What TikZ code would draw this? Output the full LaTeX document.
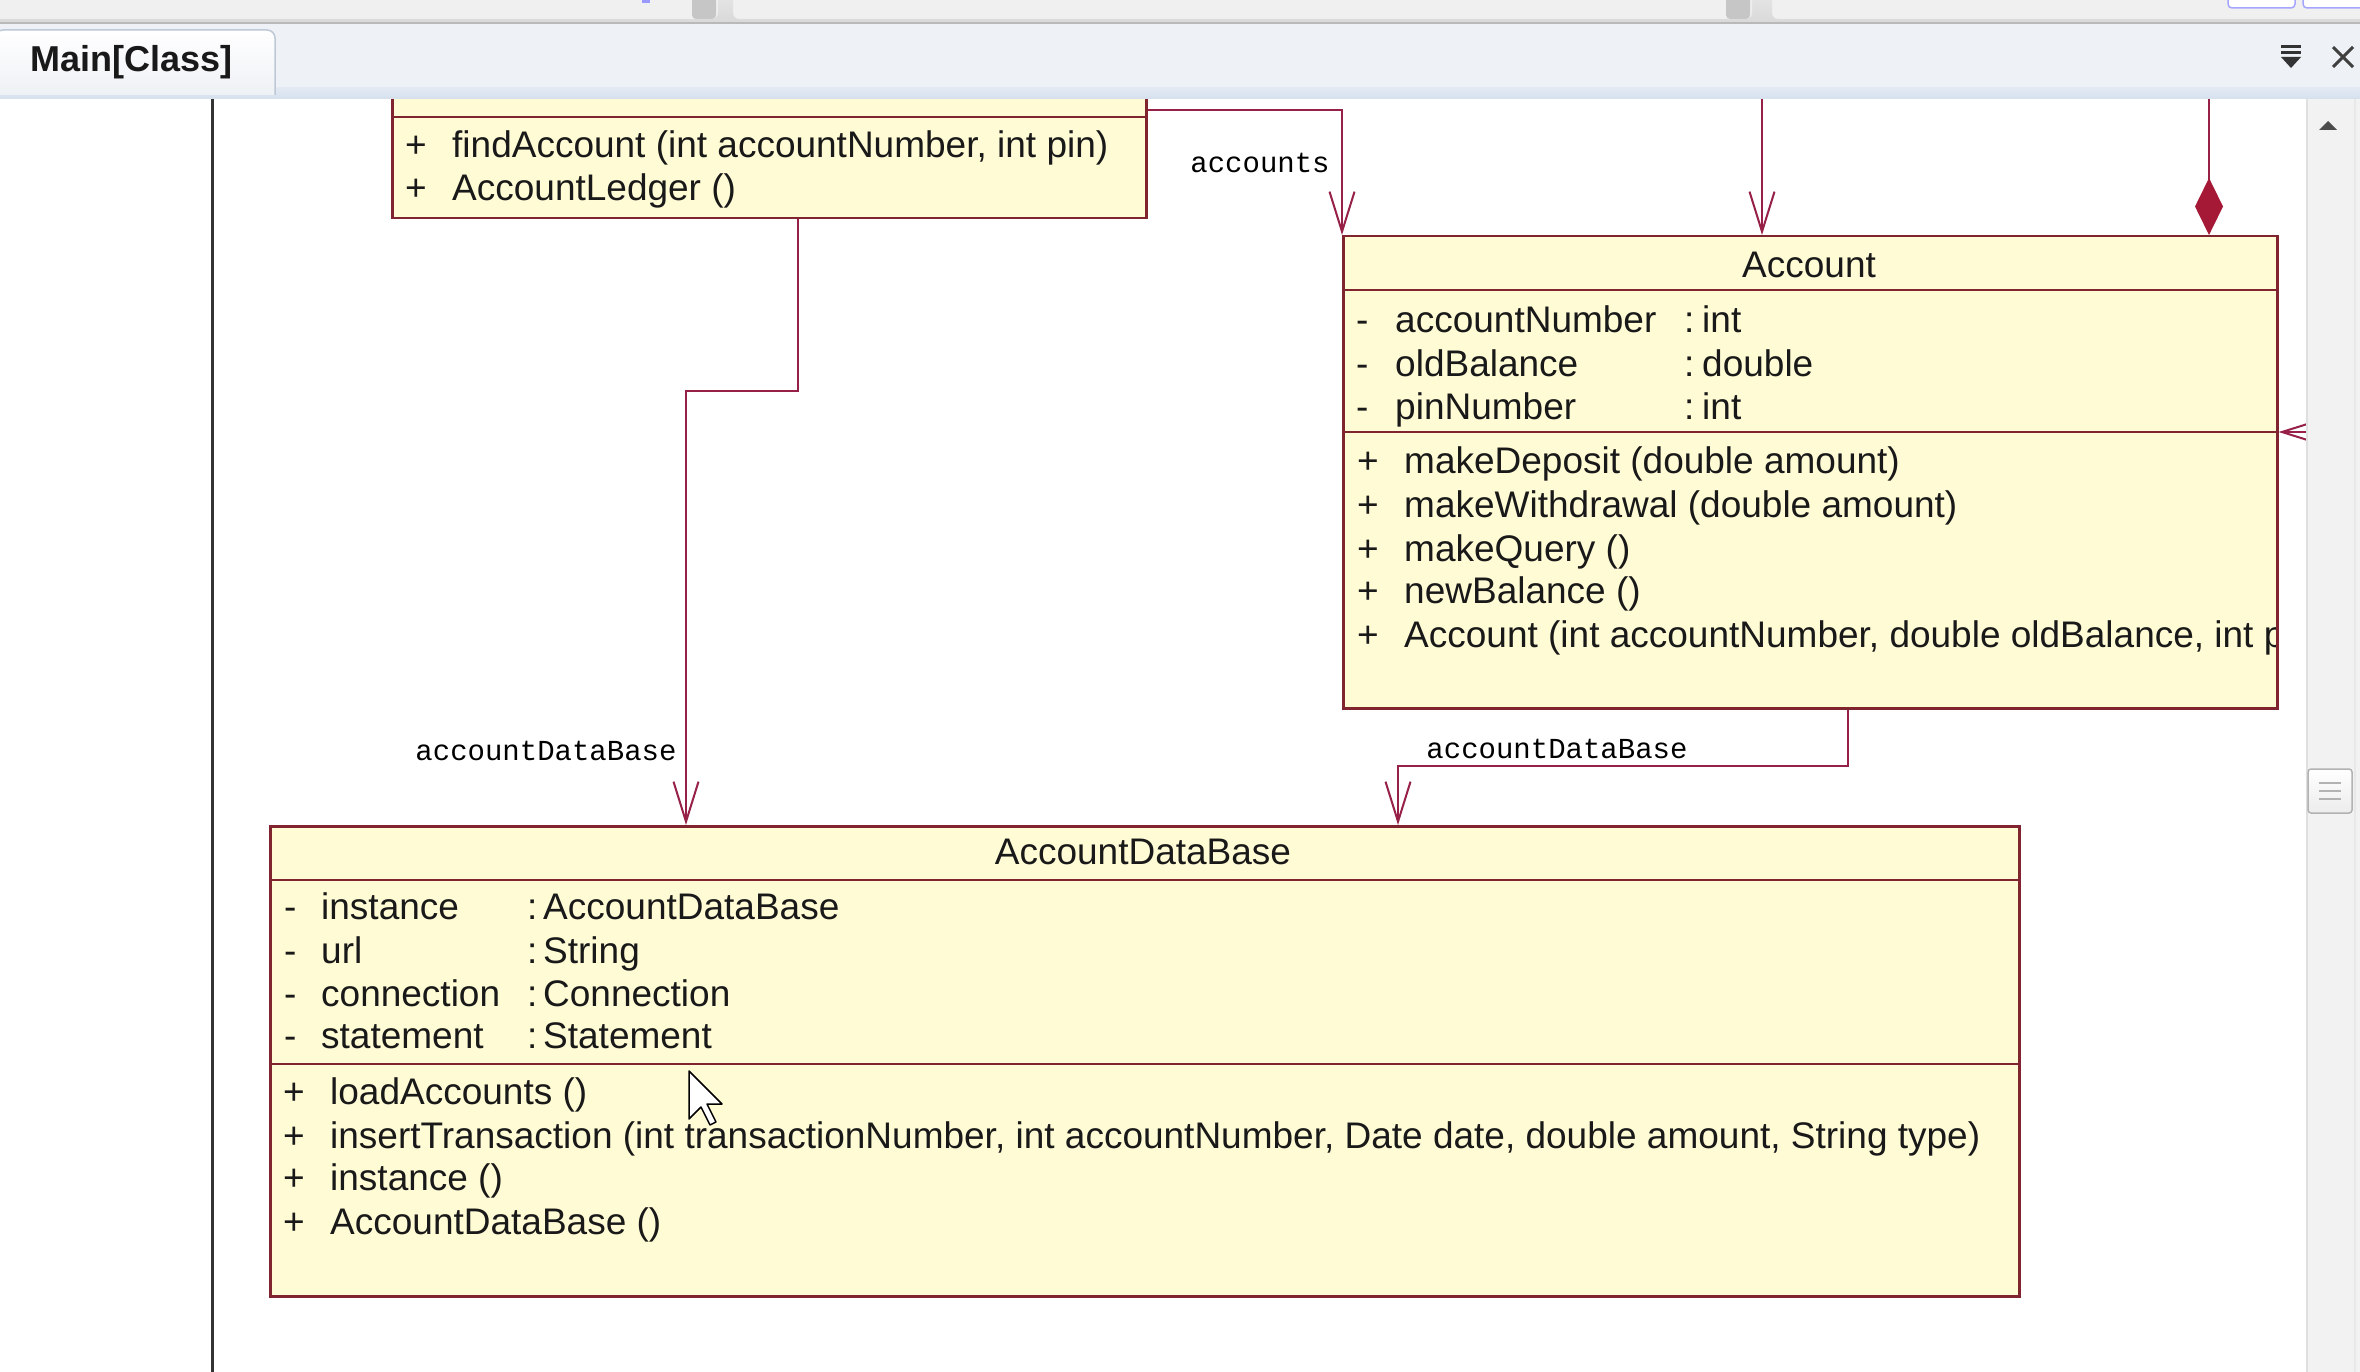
\documentclass[tikz,border=0pt]{standalone}
\usepackage{fontspec}
\setmainfont{Liberation Sans}
\newfontfamily\lblfont{Liberation Mono}
\usetikzlibrary{arrows.meta}
\definecolor{boxfill}{RGB}{255,251,213}
\definecolor{boxline}{RGB}{128,36,48}
\definecolor{connline}{RGB}{150,32,70}
\definecolor{diamondfill}{RGB}{165,25,55}
\definecolor{tabbg}{RGB}{238,241,245}
\definecolor{tabband}{RGB}{214,224,238}
\definecolor{tabedge}{RGB}{190,200,214}
\definecolor{txt}{RGB}{25,25,25}
\begin{document}
\begin{tikzpicture}[x=1pt,y=-1pt,
  classbox/.style={draw=boxline, fill=boxfill, line width=2.5pt, rectangle, inner sep=0pt, anchor=north west},
  sepline/.style={draw=boxline, line width=2.5pt},
  conn/.style={draw=connline, line width=2pt, -{Straight Barb[length=40pt,width=25pt]}},
  comp/.style={draw=connline, line width=2pt, -{Diamond[length=57pt,width=28pt,color=diamondfill]}},
  mem/.style={anchor=base west, inner sep=0pt, text=txt, font=\fontsize{37}{44}\selectfont},
  head/.style={anchor=base, inner sep=0pt, text=txt, font=\fontsize{37}{44}\selectfont},
  lbl/.style={inner sep=0pt, text=black, font=\lblfont\fontsize{29}{34}\selectfont}]
\useasboundingbox (0,0) rectangle (2360,1372);
% canvas
\fill[white] (0,0) rectangle (2360,1372);
\draw[black!80, line width=3pt] (212,99) -- (212,1372);

% class boxes
\node[classbox, minimum width=754pt, minimum height=177pt] (ledger) at (391,40) {};
\draw[sepline] ([yshift=-77pt]ledger.north west) -- ([yshift=-77pt]ledger.north east);
\node[classbox, minimum width=934pt, minimum height=472pt] (account) at (1342,235) {};
\draw[sepline] ([yshift=-55pt]account.north west) -- ([yshift=-55pt]account.north east);
\draw[sepline] ([yshift=-197pt]account.north west) -- ([yshift=-197pt]account.north east);
\node[classbox, minimum width=1749pt, minimum height=470pt] (adb) at (269,825) {};
\draw[sepline] ([yshift=-55pt]adb.north west) -- ([yshift=-55pt]adb.north east);
\draw[sepline] ([yshift=-239pt]adb.north west) -- ([yshift=-239pt]adb.north east);

% connectors
\draw[conn] ([yshift=-70pt]ledger.north east) -| (account.north west);
\coordinate (topa) at (1762,60);
\draw[conn] (topa) -- (topa |- account.north);
\coordinate (topb) at (2209,60);
\draw[comp] (topb) -- (topb |- account.north);
\coordinate (rightc) at (2318,432);
\draw[conn] (rightc) -- (rightc -| account.east);
\coordinate (b1) at (798,391);
\coordinate (b2) at (686,391);
\draw[conn] (ledger.south -| b1) -- (b1) -- (b2) -- (b2 |- adb.north);
\coordinate (c1) at (1848,766);
\coordinate (c2) at (1398,766);
\draw[conn] (account.south -| c1) -- (c1) -- (c2) -- (c2 |- adb.north);

% connector labels
\node[lbl] (lacc) at (1260,163) {accounts};
\node[lbl] (ldb1) at (546,751) {accountDataBase};
\node[lbl] (ldb2) at (1557,749) {accountDataBase};

% AccountLedger members
\node[mem] (lp1) at (405,158) {+};
\node[mem] (lm1) at (452,158) {findAccount (int accountNumber, int pin)};
\node[mem] (lp2) at (405,201) {+};
\node[mem] (lm2) at (452,201) {AccountLedger ()};

% Account
\node[head] (ahead) at (1809,277) {Account};
\node[mem] (ad1) at (1356,332) {-};
\node[mem] (an1) at (1395,332) {accountNumber};
\node[mem] (ac1) at (1684,332) {:};
\node[mem] (at1) at (1702,332) {int};
\node[mem] (ad2) at (1356,376) {-};
\node[mem] (an2) at (1395,376) {oldBalance};
\node[mem] (ac2) at (1684,376) {:};
\node[mem] (at2) at (1702,376) {double};
\node[mem] (ad3) at (1356,419) {-};
\node[mem] (an3) at (1395,419) {pinNumber};
\node[mem] (ac3) at (1684,419) {:};
\node[mem] (at3) at (1702,419) {int};
\node[mem] (ap1) at (1357,473) {+};
\node[mem] (am1) at (1404,473) {makeDeposit (double amount)};
\node[mem] (ap2) at (1357,517) {+};
\node[mem] (am2) at (1404,517) {makeWithdrawal (double amount)};
\node[mem] (ap3) at (1357,561) {+};
\node[mem] (am3) at (1404,561) {makeQuery ()};
\node[mem] (ap4) at (1357,603) {+};
\node[mem] (am4) at (1404,603) {newBalance ()};
\node[mem] (ap5) at (1357,647) {+};
\begin{scope}
\clip (1342,600) rectangle (2275,700);
\node[mem] (am5) at (1404,647) {Account (int accountNumber, double oldBalance, int pinNumber)};
\end{scope}

% AccountDataBase
\node[head] (dhead) at (1143,864) {AccountDataBase};
\node[mem] (dd1) at (284,919) {-};
\node[mem] (dn1) at (321,919) {instance};
\node[mem] (dc1) at (527,919) {:};
\node[mem] (dt1) at (543,919) {AccountDataBase};
\node[mem] (dd2) at (284,963) {-};
\node[mem] (dn2) at (321,963) {url};
\node[mem] (dc2) at (527,963) {:};
\node[mem] (dt2) at (543,963) {String};
\node[mem] (dd3) at (284,1006) {-};
\node[mem] (dn3) at (321,1006) {connection};
\node[mem] (dc3) at (527,1006) {:};
\node[mem] (dt3) at (543,1006) {Connection};
\node[mem] (dd4) at (284,1048) {-};
\node[mem] (dn4) at (321,1048) {statement};
\node[mem] (dc4) at (527,1048) {:};
\node[mem] (dt4) at (543,1048) {Statement};
\node[mem] (dp1) at (283,1104) {+};
\node[mem] (dm1) at (330,1104) {loadAccounts ()};
\node[mem] (dp2) at (283,1148) {+};
\node[mem] (dm2) at (330,1148) {insertTransaction (int transactionNumber, int accountNumber, Date date, double amount, String type)};
\node[mem] (dp3) at (283,1190) {+};
\node[mem] (dm3) at (330,1190) {instance ()};
\node[mem] (dp4) at (283,1234) {+};
\node[mem] (dm4) at (330,1234) {AccountDataBase ()};

% mouse cursor
\draw[black, fill=white, line width=1.5pt, line join=round] (689,1071) -- ++(0,48) -- ++(12,-12) -- ++(9,18) -- ++(6,-3) -- ++(-9,-18) -- ++(15,0) -- cycle;

% ---- window chrome ----
% toolbar
\fill[top color=gray!22, bottom color=gray!30] (0,0) rectangle (2360,23);
\draw[gray!20, fill=gray!12, rounded corners=6pt] (-10,-10) rectangle (718,19);
\fill[gray!45, rounded corners=4pt] (692,-5) rectangle (716,19);
\fill[blue!40] (642,0) rectangle (650,3);
\draw[gray!20, fill=gray!12, rounded corners=6pt] (733,-10) rectangle (1752,19);
\fill[gray!45, rounded corners=4pt] (1726,-5) rectangle (1750,19);
\draw[gray!20, fill=gray!12, rounded corners=6pt] (1772,-10) rectangle (2370,19);
\draw[blue!35, fill=white, rounded corners=4pt, line width=1.5pt] (2228,-10) rectangle (2295,8);
\draw[blue!35, fill=white, rounded corners=4pt, line width=1.5pt] (2303,-10) rectangle (2370,8);
\draw[gray!55, line width=2pt] (0,23) -- (2360,23);
% tab bar
\fill[tabbg] (0,24) rectangle (2360,88);
\fill[top color=tabband!70, bottom color=tabband] (0,88) rectangle (2360,99);
\draw[tabedge, top color=white, bottom color=tabbg, rounded corners=8pt, line width=1.5pt] (-5,95) -- (-5,30) -- (275,30) -- (275,95);
\node[anchor=base west, inner sep=0pt, font=\bfseries\fontsize{36}{42}\selectfont, text=black!90] (tab) at (30,72) {Main[Class]};
% right-hand icons
\fill[black!80] (2281,45) rectangle (2301,48);
\fill[black!80] (2281,51) rectangle (2301,54);
\fill[black!80] (2281,57) -- (2301,57) -- (2291,68) -- cycle;
\draw[black!75, line width=3pt] (2333,47) -- (2353,67) (2333,67) -- (2353,47);
% scrollbar
\fill[gray!10] (2306,99) rectangle (2360,1372);
\draw[gray!25, line width=2pt] (2307,99) -- (2307,1372);
\draw[gray!18, line width=1.5pt] (2355,99) -- (2355,1372);
\fill[black!70] (2319,130) -- (2337,130) -- (2328,121) -- cycle;
\draw[gray!60, top color=white, bottom color=gray!15, rounded corners=3pt, line width=1.5pt] (2308,769) rectangle (2352,813);
\draw[gray!60, line width=1.5pt] (2319,783) -- (2341,783) (2319,791) -- (2341,791) (2319,799) -- (2341,799);
\end{tikzpicture}
\end{document}
